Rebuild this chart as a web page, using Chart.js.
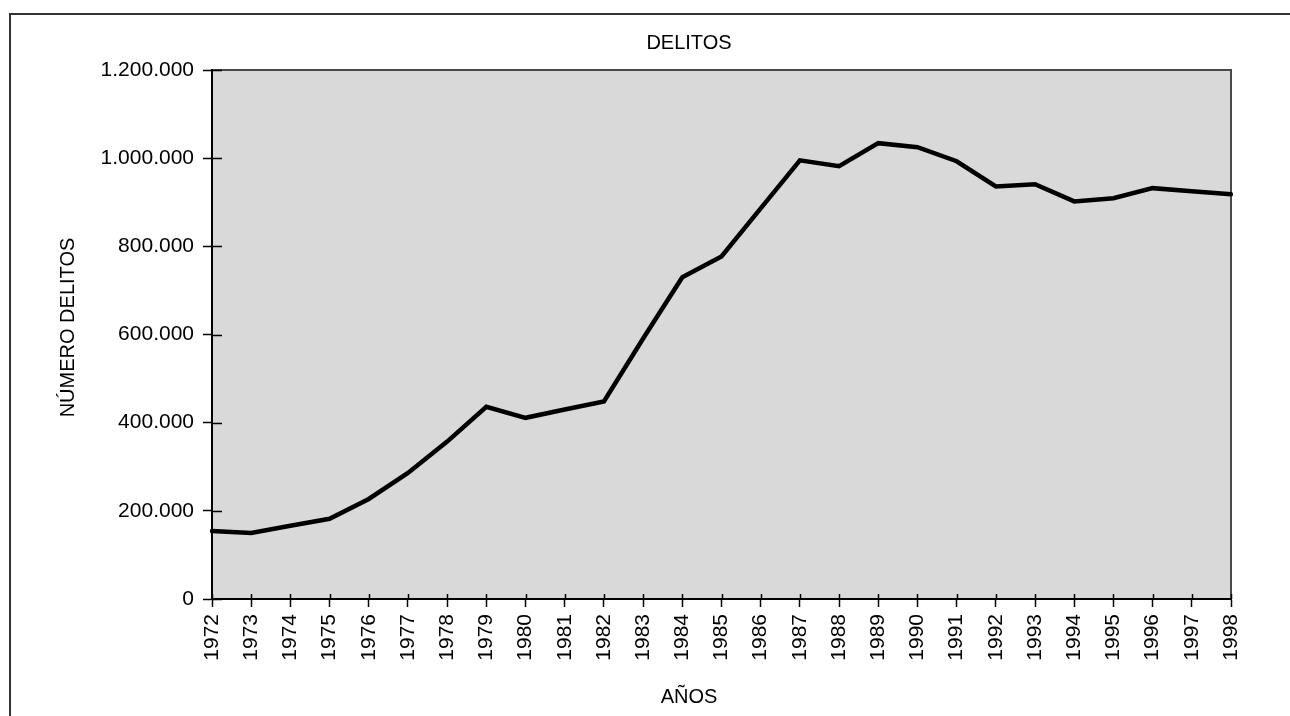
<!DOCTYPE html>
<html lang="es">
<head>
<meta charset="utf-8">
<title>Delitos</title>
<script src="https://cdn.jsdelivr.net/npm/chart.js@4/dist/chart.umd.min.js"></script>
<style>
    html, body {
        margin: 0;
        padding: 0;
        background: #ffffff;
    }

    #wrap {
        width: 1290px;
        height: 716px;
        position: relative;
    }
</style>
</head>
<body>

<div id="wrap">
    <canvas id="delitosChart" width="1290" height="716"></canvas>
</div>

<script>

// --------------------------------------------
// Data
// --------------------------------------------

const years = [
    "1972", "1973", "1974", "1975", "1976", "1977", "1978", "1979", "1980",
    "1981", "1982", "1983", "1984", "1985", "1986", "1987", "1988", "1989",
    "1990", "1991", "1992", "1993", "1994", "1995", "1996", "1997", "1998"
];

const delitos = [
    154000, 150000, 166000, 182000, 227000, 286000, 357000, 436000, 411000,
    430000, 448000, 591000, 730000, 777000, 886000, 995000, 982000, 1034000,
    1025000, 993000, 936000, 941000, 902000, 909000, 932000, 925000, 918000
];

const chartTitle = "DELITOS";

const xTitle = "AÑOS";

const yTitle = "NÚMERO DELITOS";


// --------------------------------------------
// Helpers
// --------------------------------------------

const FONT = "'Liberation Sans', Arial, Helvetica, sans-serif";

function formatMiles(value) {

    return String(value).replace(/\B(?=(\d{3})+(?!\d))/g, ".");

}


// --------------------------------------------
// Background, frame, titles and crossing ticks
// --------------------------------------------

const decorPlugin = {

    id: "decor",

    beforeDraw(chart) {

        const ctx = chart.ctx;
        const area = chart.chartArea;

        ctx.save();

        // outer frame (top and left only)
        ctx.strokeStyle = "#333333";
        ctx.lineWidth = 2;
        ctx.beginPath();
        ctx.moveTo(chart.width, 14);
        ctx.lineTo(10, 14);
        ctx.lineTo(10, chart.height);
        ctx.stroke();

        // plot background
        ctx.fillStyle = "#d9d9d9";
        ctx.fillRect(area.left, area.top, area.right - area.left, area.bottom - area.top);

        // top and right border of the plot area
        ctx.strokeStyle = "#4a4a4a";
        ctx.lineWidth = 2;
        ctx.beginPath();
        ctx.moveTo(area.left, area.top);
        ctx.lineTo(area.right, area.top);
        ctx.lineTo(area.right, area.bottom);
        ctx.stroke();

        ctx.restore();

    },

    afterDraw(chart) {

        const ctx = chart.ctx;
        const area = chart.chartArea;
        const xScale = chart.scales.x;
        const yScale = chart.scales.y;

        ctx.save();

        // inner half of the tick marks
        ctx.strokeStyle = "#000000";
        ctx.lineWidth = 1.5;
        ctx.beginPath();

        yScale.ticks.forEach((t, i) => {
            const y = Math.round(yScale.getPixelForTick(i)) + 0.5;
            ctx.moveTo(area.left, y);
            ctx.lineTo(area.left + 10, y);
        });

        xScale.ticks.forEach((t, i) => {
            const x = Math.round(xScale.getPixelForTick(i)) + 0.5;
            ctx.moveTo(x, area.bottom);
            ctx.lineTo(x, area.bottom - 5);
        });

        ctx.stroke();

        // titles
        ctx.fillStyle = "#000000";
        ctx.font = "20px " + FONT;
        ctx.textAlign = "center";
        ctx.textBaseline = "middle";

        const titleX = area.left + 477;

        ctx.fillText(chartTitle, titleX, 43);

        ctx.fillText(xTitle, titleX, 697);

        ctx.translate(68, (area.top + area.bottom) / 2 - 7);
        ctx.rotate(-Math.PI / 2);
        ctx.fillText(yTitle, 0, 0);

        ctx.restore();

    }

};


// --------------------------------------------
// Chart
// --------------------------------------------

new Chart(

    document.getElementById("delitosChart"),

    {

        type: "line",

        data: {

            labels: years,

            datasets: [{

                label: chartTitle,

                data: delitos,

                borderColor: "#000000",

                borderWidth: 4.5,

                borderCapStyle: "round",

                borderJoinStyle: "miter",

                pointRadius: 0,

                tension: 0,

                fill: false

            }]

        },

        options: {

            responsive: false,

            animation: false,

            layout: {

                padding: {
                    top: 70,
                    right: 59,
                    bottom: 0,
                    left: 0
                }

            },

            plugins: {

                legend: { display: false },

                title: { display: false },

                tooltip: { enabled: false }

            },

            scales: {

                x: {

                    offset: false,

                    afterFit(scale) {
                        scale.height = 117;
                    },

                    grid: {
                        drawOnChartArea: false,
                        drawTicks: true,
                        tickLength: 8,
                        tickWidth: 1.5,
                        tickColor: "#000000"
                    },

                    border: {
                        display: true,
                        color: "#000000",
                        width: 2
                    },

                    ticks: {
                        autoSkip: false,
                        minRotation: 90,
                        maxRotation: 90,
                        padding: 7,
                        color: "#000000",
                        font: { family: FONT, size: 21 }
                    }

                },

                y: {

                    min: 0,

                    max: 1200000,

                    afterFit(scale) {
                        scale.width = 212;
                    },

                    grid: {
                        drawOnChartArea: false,
                        drawTicks: true,
                        tickLength: 9,
                        tickWidth: 1.5,
                        tickColor: "#000000"
                    },

                    border: {
                        display: true,
                        color: "#000000",
                        width: 2
                    },

                    ticks: {
                        stepSize: 200000,
                        padding: 9,
                        color: "#000000",
                        font: { family: FONT, size: 21 },
                        callback: value => formatMiles(value)
                    }

                }

            }

        },

        plugins: [decorPlugin]

    }

);

</script>

</body>
</html>
